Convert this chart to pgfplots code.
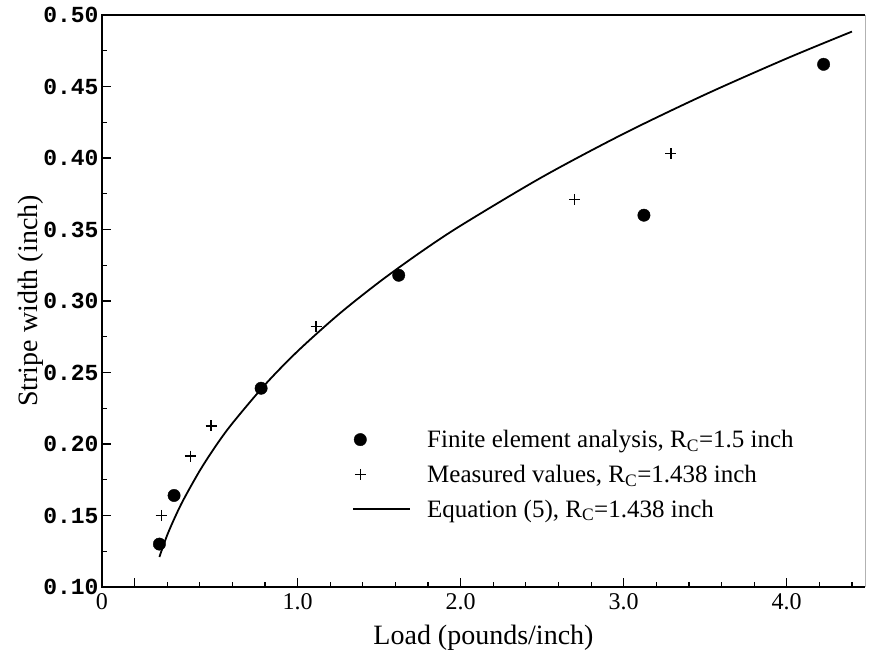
\documentclass[border=0pt]{standalone}
\usepackage{fontspec}
\setmainfont{Liberation Serif}
\newfontfamily\monofont{Liberation Mono}
\usepackage{pgfplots}
\pgfplotsset{compat=1.18}
\pgfplotsset{
    markleg/.style={legend image code/.code={%
        \path[draw=none,fill=none] (0pt,-6pt) rectangle (57pt,6pt);
        \draw[##1] plot coordinates {(7pt,0pt)};}},
    lineleg/.style={legend image code/.code={%
        \draw[##1] (0pt,0pt) -- (57pt,0pt);}},
}

\begin{document}
\begin{tikzpicture}
\begin{axis}[
    scale only axis,
    width=763pt, height=572pt,
    xmin=-0.2, xmax=4.48,
    ymin=0.1, ymax=0.5,
    axis line style={draw=none},
    clip=false,
    tick pos=left,
    tick align=inside,
    xtick={0,1,2,3,4},
    xticklabels={,1.0,2.0,3.0,4.0},
    extra x ticks={-0.2},
    extra x tick labels={0},
    extra x tick style={major tick length=0pt},
    minor xtick={0.2,0.4,0.6,0.8,1.2,1.4,1.6,1.8,2.2,2.4,2.6,2.8,3.2,3.4,3.6,3.8,4.2,4.4},
    ytick={0.10,0.15,0.20,0.25,0.30,0.35,0.40,0.45,0.50},
    yticklabels={0.10,0.15,0.20,0.25,0.30,0.35,0.40,0.45,0.50},
    minor ytick={0.125,0.175,0.225,0.275,0.325,0.375,0.425,0.475},
    major tick length=9pt,
    minor tick length=5pt,
    every tick/.style={black, line width=1.2pt},
    xticklabel style={font=\fontsize{24}{28}\selectfont, yshift=-3pt},
    yticklabel style={font=\monofont\bfseries\fontsize{23}{28}\selectfont},
    xlabel={Load (pounds/inch)},
    ylabel={Stripe width (inch)},
    xlabel style={font=\fontsize{28}{32}\selectfont, at={(axis description cs:0.5,-0.0892)}, anchor=center},
    ylabel style={font=\fontsize{28}{32}\selectfont, at={(axis description cs:-0.093,0.5)}, anchor=center},
    legend style={draw=none, fill=none, font=\fontsize{25}{30}\selectfont,
        at={(axis description cs:0.324,0.2815)}, anchor=north west,
        row sep=12pt, column sep=14pt},
    legend cell align=left,
]
\coordinate (sw) at (rel axis cs:0,0);
\coordinate (ne) at (rel axis cs:1,1);
\draw[line width=1.4pt] (rel axis cs:1,1) -- (rel axis cs:0,1) -- (rel axis cs:0,0) -- (rel axis cs:1,0);
\draw[gray!60, line width=0.8pt] (rel axis cs:1,0) -- (rel axis cs:1,1);

% finite element analysis
\addplot[only marks, mark=*, mark size=6.2pt, black, markleg]
coordinates {
    (0.152,0.130) (0.242,0.164) (0.776,0.239) (1.620,0.318) (3.124,0.360) (4.226,0.4655)
};
\addlegendentry{Finite element analysis, R\textsubscript{C}=1.5 inch}

% measured values
\addplot[only marks, mark=+, mark size=5.5pt, black, line width=1.2pt, markleg]
coordinates {
    (0.163,0.150) (0.342,0.1916) (0.469,0.2126) (1.113,0.282) (2.700,0.371) (3.290,0.403)
};
\addlegendentry{Measured values, R\textsubscript{C}=1.438 inch}

% equation (5)
\addplot[black, line width=1.8pt, smooth, lineleg]
coordinates {
    (0.152,0.121) (0.2,0.1363) (0.25,0.1494) (0.3,0.1611) (0.4,0.1814) (0.5,0.1990)
    (0.6,0.2145) (0.8,0.2415) (1.0,0.2649) (1.25,0.2905) (1.5,0.3132) (1.75,0.3338)
    (2.0,0.3527) (2.5,0.3867) (3.0,0.4170) (3.5,0.4444) (4.0,0.4696) (4.4,0.4884)
};
\addlegendentry{Equation (5), R\textsubscript{C}=1.438 inch}
\end{axis}
\pgfresetboundingbox
\path ([shift={(-102pt,-68pt)}]sw) rectangle ([shift={(5pt,15pt)}]ne);
\end{tikzpicture}
\end{document}
